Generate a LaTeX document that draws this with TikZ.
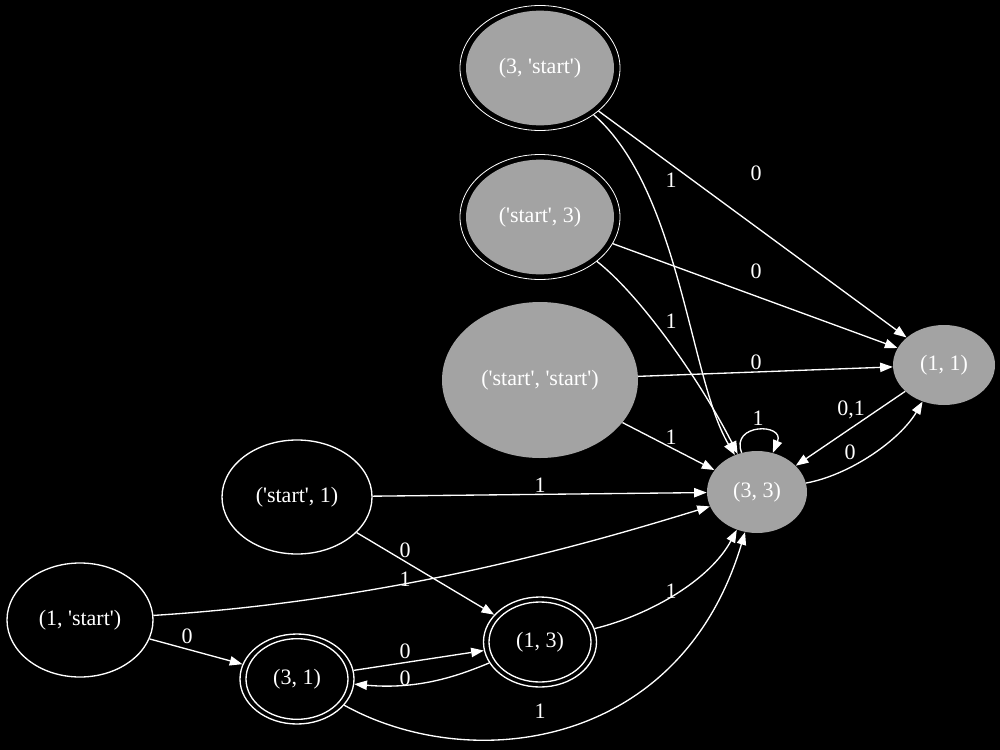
\documentclass[tikz,border=0pt]{standalone}
\usepackage{fontspec}
\setmainfont{Liberation Serif}
\usetikzlibrary{shapes.geometric,arrows.meta}
\definecolor{nodegray}{RGB}{163,163,163}
\newcommand\sq{\textquotesingle}
\tikzset{
  every node/.style={font=\fontsize{16.5}{18}\selectfont, text=white, inner sep=0pt},
  outer/.style={ellipse, draw=white, line width=0.6pt},
  plainst/.style={ellipse, draw=white, line width=1pt},
  grayst/.style={ellipse, fill=nodegray},
  lbl/.style={font=\fontsize{16.5}{18}\selectfont, text=white},
  edge/.style={draw=white, line width=1pt, -{Triangle[length=9.5pt,width=7pt]}}
}
\begin{document}
\begin{tikzpicture}[x=0.75pt,y=-0.75pt]
\fill[black] (0,0) rectangle (1000,750);
\useasboundingbox (0,0) rectangle (1000,750);

% nodes
\node[outer, minimum width=120pt, minimum height=93.75pt] (A) at (540,68) {};
\node[grayst, minimum width=111pt, minimum height=86pt] (Ai) at (540,68) {(3, \sq start\sq)};
\node[outer, minimum width=120pt, minimum height=93.75pt] (B) at (540,217) {};
\node[grayst, minimum width=111pt, minimum height=86pt] (Bi) at (540,217) {(\sq start\sq, 3)};
\node[grayst, minimum width=147pt, minimum height=117pt] (C) at (540,380) {(\sq start\sq, \sq start\sq)};
\node[grayst, minimum width=76.5pt, minimum height=60pt] (D) at (944,365) {(1, 1)};
\node[grayst, minimum width=75pt, minimum height=61.5pt] (E) at (757,492) {(3, 3)};
\node[plainst, minimum width=112.5pt, minimum height=85.5pt] (F) at (297,497) {(\sq start\sq, 1)};
\node[plainst, minimum width=109.5pt, minimum height=85.5pt] (G) at (80,620) {(1, \sq start\sq)};
\node[outer, line width=1pt, minimum width=85.5pt, minimum height=67.5pt] (H) at (297,679) {};
\node[outer, line width=1pt, minimum width=76.5pt, minimum height=60.5pt] (Hi) at (297,679) {(3, 1)};
\node[outer, line width=1pt, minimum width=84.75pt, minimum height=67.5pt] (I) at (540,642) {};
\node[outer, line width=1pt, minimum width=76.5pt, minimum height=60pt] (Ii) at (540,642) {(1, 3)};

% edges
\draw[edge] (A) -- (D);
\draw[edge] (A) .. controls (680,190) and (690,380) .. (E);
\draw[edge] (B) -- (D);
\draw[edge] (B) .. controls (640,295) and (700,380) .. (E);
\draw[edge] (C) -- (D);
\draw[edge] (C) -- (E);
\draw[edge] (E) .. controls (730,423) and (785,423) .. (E);
\draw[edge] (D) -- (E);
\draw[edge] (E) .. controls (850,475) and (900,440) .. (D);
\draw[edge] (F) -- (E);
\draw[edge] (F) -- (I);
\draw[edge] (G) .. controls (400,600) and (600,540) .. (E);
\draw[edge] (G) -- (H);
\draw[edge] (H) -- (I);
\draw[edge] (I) .. controls (460,675) and (420,690) .. (H);
\draw[edge] (H) .. controls (470,775) and (680,750) .. (E);
\draw[edge] (I) .. controls (650,615) and (710,580) .. (E);

% labels
\node[lbl] (l1) at (756,173) {0};
\node[lbl] (l2) at (671,180) {1};
\node[lbl] (l3) at (756,271) {0};
\node[lbl] (l4) at (671,321) {1};
\node[lbl] (l5) at (756,362) {0};
\node[lbl] (l6) at (671,437) {1};
\node[lbl] (l7) at (758,418) {1};
\node[lbl] (l8) at (851,410) {0,1};
\node[lbl] (l9) at (850,452) {0};
\node[lbl] (l10) at (540,485) {1};
\node[lbl] (l11) at (405,550) {0};
\node[lbl] (l12) at (405,579) {1};
\node[lbl] (l13) at (187,636) {0};
\node[lbl] (l14) at (405,651) {0};
\node[lbl] (l15) at (405,678) {0};
\node[lbl] (l16) at (540,711) {1};
\node[lbl] (l17) at (671,591) {1};
\end{tikzpicture}
\end{document}
